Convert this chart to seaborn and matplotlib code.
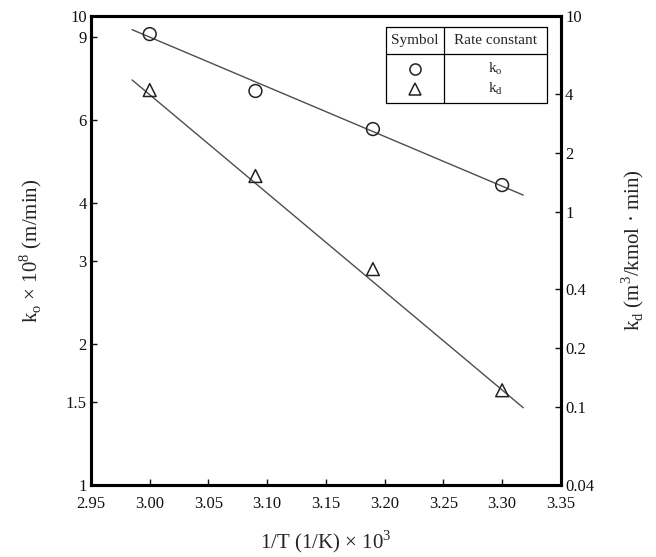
import numpy as np
import pandas as pd
import seaborn as sns
import matplotlib.pyplot as plt

# data
inv_T = [3.00, 3.09, 3.19, 3.30]
k_o = [9.15, 6.92, 5.74, 4.36]
k_d = [4.18, 1.52, 0.508, 0.122]

# end points of the fitted lines
fit_x = [2.985, 3.318]
ko_fit = [9.35, 4.15]
kd_fit = [4.71, 0.0993]

left_ticks = [1, 1.5, 2, 3, 4, 6, 9, 10]
right_ticks = [0.04, 0.1, 0.2, 0.4, 1, 2, 4, 10]
x_ticks = [2.95, 3.00, 3.05, 3.10, 3.15, 3.20, 3.25, 3.30, 3.35]

sns.set_theme(style="ticks")
plt.rcParams['font.family'] = ['Liberation Serif', 'DejaVu Serif']
plt.rcParams['mathtext.fontset'] = 'custom'
plt.rcParams['mathtext.rm'] = 'Liberation Serif'

df_o = pd.DataFrame({'x': inv_T, 'y': k_o})
df_d = pd.DataFrame({'x': inv_T, 'y': k_d})
fit = pd.DataFrame({'x': fit_x, 'ko': ko_fit, 'kd': kd_fit})

fig = plt.figure(figsize=(6.56, 5.57), dpi=100)
ax = fig.add_axes([0.1387, 0.1293, 0.7163, 0.842])
ax2 = ax.twinx()

line_col = '#4d4d4d'
sns.lineplot(data=fit, x='x', y='ko', ax=ax, color=line_col, lw=1.0)
sns.scatterplot(data=df_o, x='x', y='y', ax=ax, marker='o', s=85,
                facecolor='none', edgecolor='#222222', linewidth=1.1, zorder=3)
sns.lineplot(data=fit, x='x', y='kd', ax=ax2, color=line_col, lw=1.0)
sns.scatterplot(data=df_d, x='x', y='y', ax=ax2, marker='^', s=85,
                facecolor='none', edgecolor='#222222', linewidth=1.1, zorder=3)

ax.set_xlim(2.95, 3.35)
ax.set_yscale('log')
ax.set_ylim(1, 10)
ax.set_yticks(left_ticks)
ax.set_yticklabels([f'{t:g}' for t in left_ticks])
ax.minorticks_off()
ax.set_xticks(x_ticks)
ax.set_xticklabels([f'{t:.2f}' for t in x_ticks])

ax2.set_yscale('log')
ax2.set_ylim(0.04, 10)
ax2.set_yticks(right_ticks)
ax2.set_yticklabels([f'{t:g}' for t in right_ticks])
ax2.minorticks_off()

for a in (ax, ax2):
    a.tick_params(direction='in', length=4, width=1, labelsize=12, pad=3, colors='#111111')
    for s in a.spines.values():
        s.set_visible(True)
        s.set_linewidth(2.2)
        s.set_color('black')
ax.tick_params(axis='x', pad=8)

ax.set_xlabel('1/T (1/K) × 10$^\\mathregular{3}$', fontsize=15, labelpad=12)
ax.set_ylabel('k$_\\mathregular{o}$ × 10$^\\mathregular{8}$ (m/min)', fontsize=15, labelpad=16)
ax2.set_ylabel('k$_\\mathregular{d}$ (m$^\\mathregular{3}$/kmol · min)', fontsize=15,
               rotation=90, labelpad=18)

# legend drawn as a small table
tx0, tx1, tdiv = 0.627, 0.970, 0.752
ty0, ty1, thead = 0.8145, 0.9765, 0.918
kw = dict(transform=ax.transAxes, color='black', lw=0.9, clip_on=False)
ax.plot([tx0, tx1, tx1, tx0, tx0], [ty0, ty0, ty1, ty1, ty0], **kw)
ax.plot([tdiv, tdiv], [ty0, ty1], **kw)
ax.plot([tx0, tx1], [thead, thead], **kw)
ax.text((tx0 + tdiv) / 2, 0.947, 'Symbol', transform=ax.transAxes,
        ha='center', va='center', fontsize=11)
ax.text((tdiv + tx1) / 2, 0.947, 'Rate constant', transform=ax.transAxes,
        ha='center', va='center', fontsize=11)
ax.plot([(tx0 + tdiv) / 2], [0.887], transform=ax.transAxes, marker='o', ms=8,
        mfc='none', mec='#222222', mew=1.1, ls='none')
ax.plot([(tx0 + tdiv) / 2], [0.844], transform=ax.transAxes, marker='^', ms=8,
        mfc='none', mec='#222222', mew=1.1, ls='none')
ax.text((tdiv + tx1) / 2, 0.887, 'k$_\\mathregular{o}$', transform=ax.transAxes,
        ha='center', va='center', fontsize=11)
ax.text((tdiv + tx1) / 2, 0.844, 'k$_\\mathregular{d}$', transform=ax.transAxes,
        ha='center', va='center', fontsize=11)

fig.savefig('out.png', dpi=100)
